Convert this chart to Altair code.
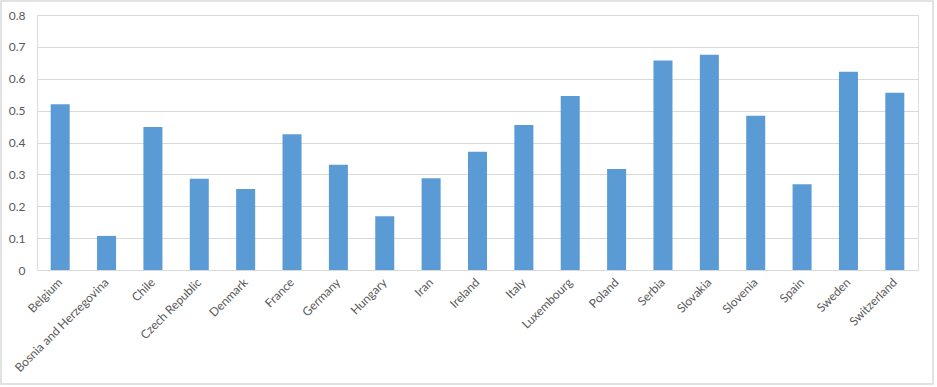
import altair as alt
import pandas as pd

countries = ["Belgium", "Bosnia and Herzegovina", "Chile", "Czech Republic", "Denmark",
             "France", "Germany", "Hungary", "Iran", "Ireland", "Italy", "Luxembourg",
             "Poland", "Serbia", "Slovakia", "Slovenia", "Spain", "Sweden", "Switzerland"]
values = [0.520, 0.107, 0.449, 0.286, 0.254, 0.426, 0.330, 0.169, 0.288, 0.371,
          0.455, 0.546, 0.317, 0.657, 0.675, 0.484, 0.269, 0.622, 0.556]
y_ticks = [0, 0.1, 0.2, 0.3, 0.4, 0.5, 0.6, 0.7, 0.8]

df = pd.DataFrame({"country": countries, "value": values})

FONT = "Lato"
GRAY = "#595959"

frame = alt.Chart(pd.DataFrame({"a": [0]})).mark_rect(
    fill="transparent", stroke="#d9d9d9", strokeWidth=1.5
).encode(
    x=alt.value(-36), x2=alt.value(896), y=alt.value(-14), y2=alt.value(369)
)

bars = alt.Chart(df).mark_bar(color="#5B9BD5").encode(
    x=alt.X("country:N", sort=countries, title=None,
            scale=alt.Scale(paddingInner=0.59, paddingOuter=0.295),
            axis=alt.Axis(labelAngle=-45, labelAlign="right", labelBaseline="middle",
                          labelPadding=10, ticks=False, domainColor="#d9d9d9",
                          domainWidth=1, labelColor=GRAY, labelFont=FONT,
                          labelFontSize=12, grid=False)),
    y=alt.Y("value:Q", title=None,
            scale=alt.Scale(domain=[0, 0.8], nice=False),
            axis=alt.Axis(values=y_ticks, format=".1~f", ticks=False, domain=False,
                          gridColor="#d9d9d9", gridWidth=1, labelColor=GRAY,
                          labelFont=FONT, labelFontSize=12, labelPadding=12)),
)

chart = alt.layer(bars, frame).properties(
    width=881, height=255,
    autosize=alt.AutoSizeParams(type="none"),
    padding={"left": 37, "top": 15, "right": 19, "bottom": 117},
).configure_view(stroke=None).configure(background="white")

chart.save("out.html", embed_options={"renderer": "svg", "actions": False})
